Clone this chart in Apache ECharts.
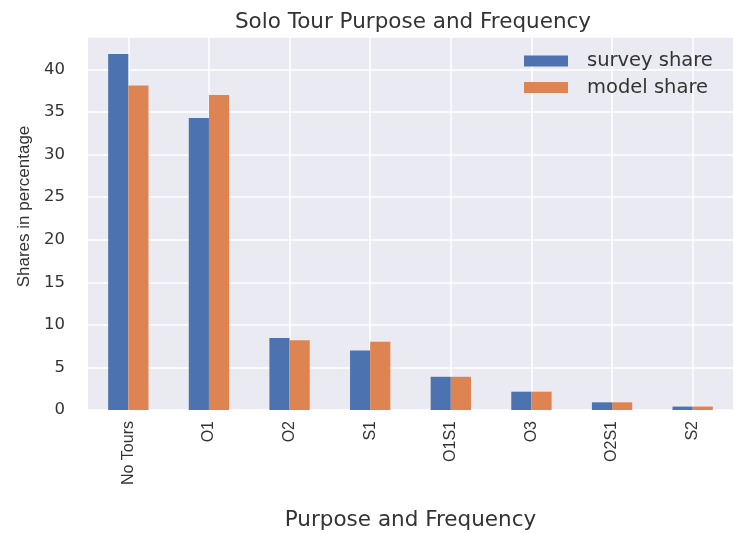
<!DOCTYPE html>
<html>
<head>
<meta charset="utf-8">
<script src="https://cdn.jsdelivr.net/npm/echarts@6/dist/echarts.min.js"></script>
<style>html,body{margin:0;padding:0;background:#fff}#c{width:734px;height:533px}</style>
</head>
<body>
<div id="c"></div>
<script>
const categories = ['No Tours', 'O1', 'O2', 'S1', 'O1S1', 'O3', 'O2S1', 'S2'];
const surveyShare = [41.8, 34.3, 8.45, 7.0, 3.9, 2.15, 0.9, 0.4];
const modelShare = [38.1, 37.0, 8.2, 8.0, 3.9, 2.15, 0.9, 0.4];
const yTicks = [0, 5, 10, 15, 20, 25, 30, 35, 40];

const chart = echarts.init(document.getElementById('c'));
const txt = '#333333';
const ff = 'DejaVu Sans';
const ffr = 'Liberation Sans';
chart.setOption({
  animation: false,
  title: {
    text: 'Solo Tour Purpose and Frequency',
    left: 413, top: 11, textAlign: 'center', padding: 0,
    textStyle: {fontFamily: ff, fontSize: 21.5, fontWeight: 'normal', color: txt}
  },
  legend: {
    left: 524, top: 51, orient: 'vertical', padding: 0, icon: 'rect',
    itemWidth: 44, itemHeight: 11, itemGap: 6.5,
    textStyle: {fontFamily: ff, fontSize: 19.5, color: txt, lineHeight: 20, padding: [0, 0, 0, 14]},
    data: ['survey share', 'model share']
  },
  grid: {left: 88, right: 1, top: 37, bottom: 123, show: true, backgroundColor: '#EAEAF2', borderWidth: 0,
    containLabel: false, outerBoundsMode: 'none'},
  xAxis: {
    type: 'category', data: categories,
    name: 'Purpose and Frequency', nameLocation: 'middle', nameGap: 99,
    nameTextStyle: {fontFamily: ff, fontSize: 21.5, color: txt},
    axisLine: {show: false}, axisTick: {show: false, alignWithLabel: true},
    axisLabel: {rotate: 90, fontFamily: ffr, fontSize: 16, color: txt, margin: 11},
    splitLine: {show: true, alignWithLabel: true, lineStyle: {color: '#ffffff', width: 1.5}}
  },
  yAxis: {
    type: 'value', min: 0, max: 43.8, interval: 5,
    name: 'Shares in percentage', nameLocation: 'middle', nameGap: 53,
    nameTextStyle: {fontFamily: ffr, fontSize: 17, color: txt, padding: [0, 0, 0, 34]},
    axisLine: {show: false}, axisTick: {show: false},
    axisLabel: {fontFamily: ff, fontSize: 16.5, color: txt, margin: 23,
      formatter: v => yTicks.includes(v) ? String(v) : ''},
    splitLine: {show: true, lineStyle: {color: '#ffffff', width: 1.5}}
  },
  series: [
    {name: 'survey share', type: 'bar', data: surveyShare, barGap: '0%', barCategoryGap: '50%',
      itemStyle: {color: '#4C72B0'}},
    {name: 'model share', type: 'bar', data: modelShare, barGap: '0%', barCategoryGap: '50%',
      itemStyle: {color: '#DD8452'}}
  ]
});
</script>
</body>
</html>
